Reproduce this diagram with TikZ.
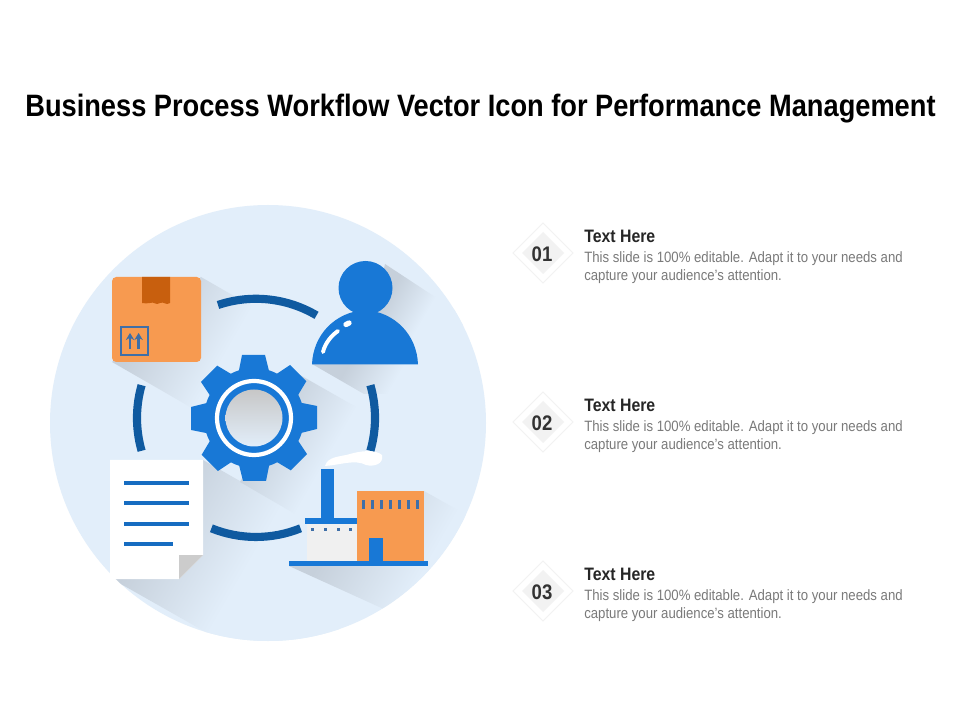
\documentclass[tikz,border=0pt]{standalone}
\usepackage{fontspec}
\usetikzlibrary{arrows.meta}
\setmainfont[FakeStretch=0.88]{Liberation Sans}
\definecolor{discblue}{HTML}{E2EEFA}
\definecolor{iconblue}{HTML}{1878D6}
\definecolor{ringblue}{HTML}{0F5AA0}
\definecolor{boxorange}{HTML}{F79A50}
\definecolor{tapeorange}{HTML}{C85F0E}
\definecolor{markblue}{HTML}{3F6FA8}
\definecolor{castgrey}{HTML}{C6D0DB}
\definecolor{bodygrey}{HTML}{7A7A7A}
\pgfdeclarehorizontalshading{castfade}{100bp}{color(0bp)=(castgrey); color(30bp)=(castgrey); color(52bp)=(discblue); color(100bp)=(discblue)}
\tikzset{
  ringarc/.style={draw=ringblue,line width=5.8pt},
  cast/.style={shading=castfade,shading angle=-30},
  docline/.style={draw=iconblue!90!black,line width=2.2pt},
  headtext/.style={anchor=west,inner sep=0pt,text=black!85,font=\bfseries\fontsize{12.8}{15}\selectfont},
  bodytext/.style={anchor=north west,inner sep=0pt,align=left,text=bodygrey,font=\fontsize{10.65}{13.4}\selectfont},
  numtext/.style={inner sep=0pt,text=black!80,font=\bfseries\fontsize{15}{18}\selectfont},
}
\begin{document}
\begin{tikzpicture}[x=0.025cm,y=-0.025cm]
\useasboundingbox (0,0) rectangle (960,720);
\fill[white] (0,0) rectangle (960,720);
\node[inner sep=0pt,text=black,font=\bfseries\fontsize{22}{26}\selectfont] (title) at (480.5,108.5) {Business Process Workflow Vector Icon for Performance Management};
% disc and long shadows
\fill[discblue] (268,423) circle (218);
\begin{scope}
\clip (268,423) circle (218);
\shade[cast] (112,579) -- (203,460) -- (340,538) -- (340,708) -- cycle;
\shade[cast] (289,566) -- (424,566) -- (424,491) -- (550,562) -- (430,630) -- cycle;
\shade[cast] (312,364) -- (418,364) -- (470,394) -- (364,394) -- cycle;
\shade[cast] (385,264) -- (470,320) -- (418,360) -- (375,310) -- cycle;
\shade[cast] (112,362) -- (201,277) -- (321,346) -- (232,431) -- cycle;
\shade[cast] (300,375) -- (400,432) -- (340,540) -- (240,482) -- cycle;
\end{scope}
% ring pieces
\draw[ringarc] (218,305) arc[start angle=-108.6,end angle=-59.4,radius=119];
\draw[ringarc] (141.6,385.2) arc[start angle=-164,end angle=-196,radius=119];
\draw[ringarc] (370.4,385.2) arc[start angle=-16,end angle=16,radius=119];
\draw[ringarc] (211.4,528.3) arc[start angle=112,end angle=68,radius=119];
% gear
\fill[iconblue] (254,418) circle (50);
\foreach \a in {0,45,...,315}
  \fill[iconblue,rotate around={\a:(254,418)}] (238,375) -- (242,355) -- (265,355) -- (270,375) -- cycle;
\draw[white,line width=3pt] (254,418) circle (37);
\shade[top color=black!22,bottom color=discblue] (254,418) circle (28.5);
% box
\fill[boxorange,rounded corners=3] (112,277) rectangle (201,362);
\fill[tapeorange] (142,277) -- (170,277) -- (170,303) .. controls (166,306) and (164,301) .. (160,303) .. controls (156,306) and (154,301) .. (150,303) .. controls (147,305) and (145,302) .. (142,303) -- cycle;
\draw[markblue,line width=0.8pt] (121,327) rectangle (148,355);
\draw[markblue,line width=2pt,-{Stealth[length=5pt,width=6pt]}] (130,349) -- (130,333);
\draw[markblue,line width=2pt,-{Stealth[length=5pt,width=6pt]}] (138.6,349) -- (138.6,333);
% person
\fill[iconblue] (365.5,288) circle (27);
\fill[iconblue] (312,364.5) .. controls (313,335) and (335,312) .. (365,310) .. controls (395,312) and (417,335) .. (418,364.5) -- cycle;
\draw[white,line width=2.8pt,line cap=round] (323,352) .. controls (325,343) and (332,335) .. (338,331);
\draw[white,line width=3.8pt,line cap=round] (346,324.5) -- (349,323);
% document
\fill[white] (110,460) -- (203,460) -- (203,555) -- (179,579) -- (110,579) -- cycle;
\fill[black!20] (179,555) -- (203,555) -- (179,579) -- cycle;
\draw[docline] (124,483) -- (189,483);
\draw[docline] (124,503) -- (189,503);
\draw[docline] (124,524) -- (189,524);
\draw[docline] (124,544) -- (173,544);
% factory
\fill[white] (325,466) .. controls (328,456) and (340,457) .. (350,454) .. controls (360,451) and (375,449) .. (382,455) .. controls (384,464) and (374,467) .. (366,465) .. controls (355,459) and (340,465) .. (325,466) -- cycle;
\fill[black!6] (307,523) rectangle (357,561);
\fill[iconblue] (321,469) rectangle (334,520);
\fill[iconblue] (305,518) rectangle (357,524);
\foreach \x in {312,325,338,350}
  \fill[markblue] (\x-1.5,528.5) rectangle (\x+1.5,531.5);
\fill[boxorange] (357,491) rectangle (424,562);
\foreach \x in {363,372,381,390,399,408,417}
  \fill[markblue] (\x-1.5,500) rectangle (\x+1.5,509);
\fill[iconblue] (289,561) rectangle (428,566);
\fill[iconblue] (369,538) rectangle (383,566);
% list
\foreach \n/\y in {01/254,02/423,03/592}{
  \draw[black!5,fill=white,line width=0.6pt] (543,\y-31) -- (573,\y-1) -- (543,\y+29) -- (513,\y-1) -- cycle;
  \fill[black!5] (543,\y-22) -- (564,\y-1) -- (543,\y+20) -- (522,\y-1) -- cycle;
  \node[numtext] (num\n) at (542,\y) {\n};
  \node[headtext] (head\n) at (584,\y-18) {Text Here};
  \node[bodytext] (body\n) at (584,\y-3) {This slide is 100\% editable. Adapt it to your needs and\\capture your audience's attention.};
}
\end{tikzpicture}
\end{document}
